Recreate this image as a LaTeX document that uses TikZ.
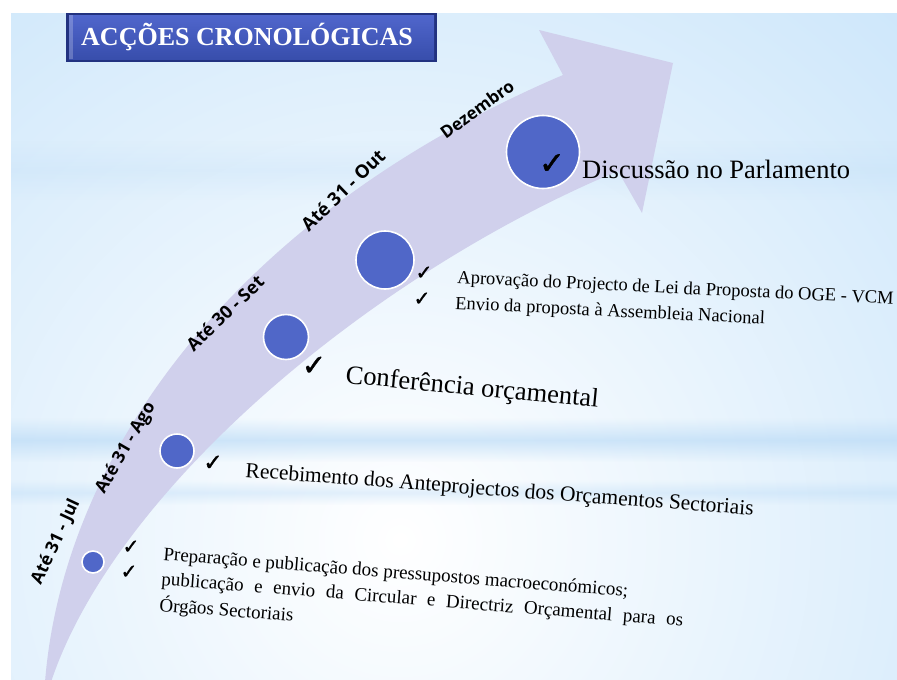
\documentclass[tikz,border=0pt]{standalone}
\usepackage{fontspec}
\setmainfont{Liberation Serif}
\newfontfamily\lblfont{Open Sans}
\newfontfamily\symfont{DejaVu Sans}[FakeBold=1.5]
\usetikzlibrary{fadings}
\definecolor{bgblue}{RGB}{200,228,250}
\definecolor{streakcol}{RGB}{185,218,246}
\definecolor{bandcol}{RGB}{208,208,236}
\definecolor{dotcol}{RGB}{80,103,200}
\definecolor{titletop}{RGB}{80,102,204}
\definecolor{titlebot}{RGB}{56,78,172}
\definecolor{titleedge}{RGB}{34,50,128}
\tikzfading[name=hstreak, top color=transparent!100, bottom color=transparent!100, middle color=transparent!35]
\begin{document}
\begin{tikzpicture}[x=1pt,y=-1pt,
  dot/.style={circle,fill=dotcol,draw=white,line width=1.6pt,inner sep=0pt},
  lbl/.style={font=\lblfont\bfseries\fontsize{#1}{20}\selectfont,inner sep=0pt},
  chk/.style={font=\symfont\fontsize{#1}{#1}\selectfont,inner sep=0pt},
  txt/.style={inner sep=0pt,anchor=base west,font=\fontsize{#1}{#1}\selectfont}
]
\useasboundingbox (0,0) rectangle (897,680);
\fill[white] (0,0) rectangle (897,680);
% background
\begin{scope}
\clip (11,13) rectangle (897,680);
\fill[bgblue] (11,13) rectangle (897,680);
\shade[inner color=white, outer color=bgblue] (400,540) circle (820pt);
\fill[streakcol, path fading=hstreak] (11,418) rectangle (897,462);
\fill[streakcol, path fading=hstreak, opacity=0.6] (11,480) rectangle (897,505);
\fill[streakcol, path fading=hstreak, opacity=0.35] (11,140) rectangle (897,200);
\end{scope}
% curved arrow
\fill[bandcol] (45,682) .. controls (63,455) and (235,215) .. (563,75)
  -- (539,30) -- (673,63) -- (642,213) -- (618,171)
  .. controls (370,275) and (115,490) .. (51,682) -- cycle;
% title box
\fill[titleedge] (66,13) rectangle (437,62);
\shade[top color=titletop, bottom color=titlebot] (69,15) rectangle (434,59);
\fill[white,opacity=0.22] (69,15) rectangle (73,59);
\node[font=\bfseries\fontsize{26}{30}\selectfont, text=white, inner sep=0pt, anchor=base] (title) at (247,45) {ACÇÕES CRONOLÓGICAS};
% circles
\node[dot,minimum size=22pt] (c1) at (93,562) {};
\node[dot,minimum size=34pt] (c2) at (177,451) {};
\node[dot,minimum size=45pt] (c3) at (286,337) {};
\node[dot,minimum size=58pt] (c4) at (385,260) {};
\node[dot,minimum size=73pt] (c5) at (543,152) {};
% date labels
\node[lbl=17.5,rotate=65] (l1) at (56,542) {Até 31 - Jul};
\node[lbl=17.5,rotate=60] (l2) at (126,448) {Até 31 - Ago};
\node[lbl=18,rotate=44] (l3) at (225,313) {Até 30 - Set};
\node[lbl=18.5,rotate=44] (l4) at (343,190) {Até 31 - Out};
\node[lbl=17,rotate=36] (l5) at (477,109) {Dezembro};
% check marks
\node[chk=20] (k1a) at (131,547) {✓};
\node[chk=20] (k1b) at (129,572) {✓};
\node[chk=23] (k2) at (213,463) {✓};
\node[chk=29] (k3) at (314,366) {✓};
\node[chk=20] (k4a) at (424,273) {✓};
\node[chk=20] (k4b) at (422,299) {✓};
\node[chk=31] (k5) at (552,164) {✓};
% texts
\node[txt=26.5] (t5) at (582,178) {Discussão no Parlamento};
\node[txt=18.5,rotate=-2.8] (t4a) at (457,283) {Aprovação do Projecto de Lei da Proposta do OGE - VCM};
\node[txt=18.5,rotate=-2.8] (t4b) at (455,309) {Envio da proposta à Assembleia Nacional};
\node[txt=26.5,rotate=-5.5] (t3) at (345,383) {Conferência orçamental};
\node[txt=21.5,rotate=-4.3] (t2) at (245,477) {Recebimento dos Anteprojectos dos Orçamentos Sectoriais};
\node[txt=19,rotate=-4.5] (t1a) at (163,560) {Preparação e publicação dos pressupostos macroeconómicos;};
\node[txt=19,rotate=-4.5] (t1b) at (161,585) {\makebox[523pt][s]{publicação e envio da Circular e Directriz Orçamental para os}};
\node[txt=19,rotate=-4.5] (t1c) at (159,611) {Órgãos Sectoriais};
\end{tikzpicture}
\end{document}
